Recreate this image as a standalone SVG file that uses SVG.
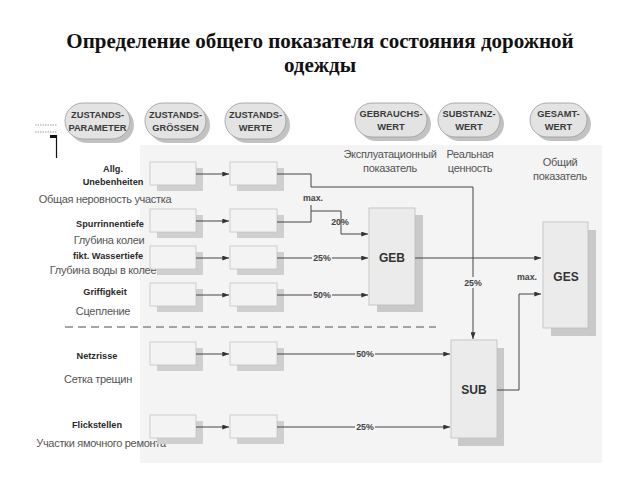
<svg xmlns="http://www.w3.org/2000/svg" width="640" height="480" viewBox="0 0 640 480">
<defs>
<style>
.title{font-family:"Liberation Serif","Times New Roman",serif;font-weight:bold;font-size:21px;fill:#111;text-anchor:middle}
.pill{fill:#e3e3e3;stroke:#9a9a9a;stroke-width:0.8}
.pillsh{fill:#c2c2c2}
.ptxt{font-family:"Liberation Sans",Arial,sans-serif;font-weight:bold;font-size:9.3px;fill:#3a3a3a;text-anchor:middle}
.ru{font-family:"Liberation Sans",Arial,sans-serif;font-size:11px;fill:#555;text-anchor:middle;letter-spacing:-0.3px}
.de{font-family:"Liberation Sans",Arial,sans-serif;font-weight:bold;font-size:9.2px;fill:#2a2a2a;text-anchor:middle}
.box{fill:#f3f3f3;stroke:#c4c4c4;stroke-width:0.8}
.boxsh{fill:#cfcfcf}
.big{fill:#ebebeb;stroke:#bdbdbd;stroke-width:0.8}
.bigsh{fill:#c9c9c9}
.btxt{font-family:"Liberation Sans",Arial,sans-serif;font-weight:bold;font-size:12px;fill:#333;text-anchor:middle}
.ln{fill:none;stroke:#444;stroke-width:1}
.pct{font-family:"Liberation Sans",Arial,sans-serif;font-weight:bold;font-size:8.8px;fill:#444;text-anchor:middle}
.lb{fill:#f4f4f4}
</style>
<marker id="ah" viewBox="0 0 8 6" refX="8" refY="3" markerWidth="7" markerHeight="5" orient="auto" markerUnits="userSpaceOnUse">
<path d="M0,0 L8,3 L0,6 z" fill="#333"/>
</marker>
</defs>
<rect width="640" height="480" fill="#fff"/>
<rect x="140" y="145" width="462" height="318" fill="#f4f4f4"/>
<text class="title" x="320" y="48">Определение общего показателя состояния дорожной</text>
<text class="title" x="320" y="72">одежды</text>

<g id="corner-mark">
<line x1="35" y1="125" x2="57" y2="125" stroke="#888" stroke-width="0.8" stroke-dasharray="1.5,1"/>
<line x1="35" y1="132" x2="57" y2="132" stroke="#888" stroke-width="0.8" stroke-dasharray="1.5,1"/>
<rect x="50" y="135" width="7" height="3" fill="#111"/>
<line x1="56.5" y1="135" x2="56.5" y2="158" stroke="#111" stroke-width="1.2"/>
</g>

<g id="hdr-zustands-parameter">
<rect class="pillsh" x="69" y="107" width="65" height="36" rx="18"/>
<rect class="pill" x="65" y="103" width="65" height="36" rx="18"/>
<text class="ptxt" x="97.5" y="118">ZUSTANDS-</text>
<text class="ptxt" x="97.5" y="131">PARAMETER</text>
</g>
<g id="hdr-zustands-groessen">
<rect class="pillsh" x="149" y="107" width="61" height="36" rx="18"/>
<rect class="pill" x="145" y="103" width="61" height="36" rx="18"/>
<text class="ptxt" x="175.5" y="118">ZUSTANDS-</text>
<text class="ptxt" x="175.5" y="131">GRÖSSEN</text>
</g>
<g id="hdr-zustands-werte">
<rect class="pillsh" x="229" y="107" width="61" height="36" rx="18"/>
<rect class="pill" x="225" y="103" width="61" height="36" rx="18"/>
<text class="ptxt" x="255.5" y="118">ZUSTANDS-</text>
<text class="ptxt" x="255.5" y="131">WERTE</text>
</g>
<g id="hdr-gebrauchswert">
<rect class="pillsh" x="359" y="107" width="72" height="34" rx="17"/>
<rect class="pill" x="355" y="103" width="72" height="34" rx="17"/>
<text class="ptxt" x="391" y="117">GEBRAUCHS-</text>
<text class="ptxt" x="391" y="130">WERT</text>
<text class="ru" x="390" y="158">Эксплуатационный</text>
<text class="ru" x="390" y="172">показатель</text>
</g>
<g id="hdr-substanzwert">
<rect class="pillsh" x="442" y="107" width="62" height="34" rx="17"/>
<rect class="pill" x="438" y="103" width="62" height="34" rx="17"/>
<text class="ptxt" x="469" y="117">SUBSTANZ-</text>
<text class="ptxt" x="469" y="130">WERT</text>
<text class="ru" x="470" y="158">Реальная</text>
<text class="ru" x="470" y="172">ценность</text>
</g>
<g id="hdr-gesamtwert">
<rect class="pillsh" x="534" y="107" width="57" height="34" rx="17"/>
<rect class="pill" x="530" y="103" width="57" height="34" rx="17"/>
<text class="ptxt" x="558.5" y="117">GESAMT-</text>
<text class="ptxt" x="558.5" y="130">WERT</text>
<text class="ru" x="560" y="166">Общий</text>
<text class="ru" x="560" y="180">показатель</text>
</g>

<g id="lbl-allg">
<text class="de" x="113" y="172">Allg.</text>
<text class="de" x="113" y="185">Unebenheiten</text>
<text class="ru" x="105" y="203">Общая неровность участка</text>
</g>
<g id="lbl-spurrinnentiefe">
<text class="de" x="110" y="227">Spurrinnentiefe</text>
<text class="ru" x="109" y="244">Глубина колеи</text>
</g>
<g id="lbl-wassertiefe">
<text class="de" x="108" y="259">fikt. Wassertiefe</text>
<text class="ru" x="103" y="274">Глубина воды в колее</text>
</g>
<g id="lbl-griffigkeit">
<text class="de" x="105" y="295">Griffigkeit</text>
<text class="ru" x="103" y="315">Сцепление</text>
</g>
<g id="lbl-netzrisse">
<text class="de" x="97" y="359">Netzrisse</text>
<text class="ru" x="98" y="383">Сетка трещин</text>
</g>
<g id="lbl-flickstellen">
<text class="de" x="97" y="428">Flickstellen</text>
<text class="ru" x="101" y="447">Участки ямочного ремонта</text>
</g>

<line x1="65" y1="327" x2="436" y2="327" stroke="#888" stroke-width="1.5" stroke-dasharray="8,5"/>

<g id="p-allg"><rect class="boxsh" x="157" y="168" width="46" height="23"/><rect class="box" x="150" y="162" width="46" height="23"/></g>
<g id="w-allg"><rect class="boxsh" x="237" y="168" width="47" height="23"/><rect class="box" x="230" y="162" width="47" height="23"/></g>
<g id="p-spur"><rect class="boxsh" x="157" y="215" width="46" height="23"/><rect class="box" x="150" y="209" width="46" height="23"/></g>
<g id="w-spur"><rect class="boxsh" x="237" y="215" width="47" height="23"/><rect class="box" x="230" y="209" width="47" height="23"/></g>
<g id="p-wasser"><rect class="boxsh" x="157" y="252" width="46" height="23"/><rect class="box" x="150" y="246" width="46" height="23"/></g>
<g id="w-wasser"><rect class="boxsh" x="237" y="252" width="47" height="23"/><rect class="box" x="230" y="246" width="47" height="23"/></g>
<g id="p-griff"><rect class="boxsh" x="157" y="289" width="46" height="23"/><rect class="box" x="150" y="283" width="46" height="23"/></g>
<g id="w-griff"><rect class="boxsh" x="237" y="289" width="47" height="23"/><rect class="box" x="230" y="283" width="47" height="23"/></g>
<g id="p-netz"><rect class="boxsh" x="157" y="348" width="46" height="23"/><rect class="box" x="150" y="342" width="46" height="23"/></g>
<g id="w-netz"><rect class="boxsh" x="237" y="348" width="47" height="23"/><rect class="box" x="230" y="342" width="47" height="23"/></g>
<g id="p-flick"><rect class="boxsh" x="157" y="421" width="46" height="23"/><rect class="box" x="150" y="415" width="46" height="23"/></g>
<g id="w-flick"><rect class="boxsh" x="237" y="421" width="47" height="23"/><rect class="box" x="230" y="415" width="47" height="23"/></g>

<g id="GEB"><rect class="bigsh" x="377" y="215" width="46" height="97"/><rect class="big" x="369" y="208" width="46" height="97"/><text class="btxt" x="392" y="262">GEB</text></g>
<g id="GES"><rect class="bigsh" x="551" y="230" width="45" height="106"/><rect class="big" x="543" y="222" width="45" height="106"/><text class="btxt" x="566" y="281">GES</text></g>
<g id="SUB"><rect class="bigsh" x="458" y="348" width="46" height="98"/><rect class="big" x="451" y="340" width="46" height="98"/><text class="btxt" x="474" y="394">SUB</text></g>

<g id="connectors">
<line class="ln" x1="196" y1="174" x2="229" y2="174" marker-end="url(#ah)"/>
<line class="ln" x1="196" y1="221" x2="229" y2="221" marker-end="url(#ah)"/>
<line class="ln" x1="196" y1="258" x2="229" y2="258" marker-end="url(#ah)"/>
<line class="ln" x1="196" y1="295" x2="229" y2="295" marker-end="url(#ah)"/>
<line class="ln" x1="196" y1="354" x2="229" y2="354" marker-end="url(#ah)"/>
<line class="ln" x1="196" y1="427" x2="229" y2="427" marker-end="url(#ah)"/>
<path class="ln" d="M277,174 H311 V187 H473 V339" marker-end="url(#ah)"/>
<path class="ln" d="M277,222 H311 V205"/>
<path class="ln" d="M311,211 H341 V234 H368" marker-end="url(#ah)"/>
<line class="ln" x1="277" y1="258" x2="368" y2="258" marker-end="url(#ah)"/>
<line class="ln" x1="277" y1="295" x2="368" y2="295" marker-end="url(#ah)"/>
<line class="ln" x1="277" y1="354" x2="450" y2="354" marker-end="url(#ah)"/>
<line class="ln" x1="277" y1="427" x2="450" y2="427" marker-end="url(#ah)"/>
<line class="ln" x1="415" y1="258" x2="541" y2="258" marker-end="url(#ah)"/>
<path class="ln" d="M497,390 H519 V294 H541" marker-end="url(#ah)"/>
<text class="pct" x="313" y="201">max.</text>
<text class="pct" x="340" y="225">20%</text>
<rect class="lb" x="312" y="253" width="20" height="10"/>
<text class="pct" x="322" y="261">25%</text>
<rect class="lb" x="312" y="290" width="20" height="10"/>
<text class="pct" x="322" y="298">50%</text>
<rect class="lb" x="355" y="349" width="20" height="10"/>
<text class="pct" x="365" y="357">50%</text>
<rect class="lb" x="355" y="422" width="20" height="10"/>
<text class="pct" x="365" y="430">25%</text>
<rect class="lb" x="463" y="277" width="20" height="11"/>
<text class="pct" x="473" y="286">25%</text>
<text class="pct" x="527" y="280">max.</text>
</g>
</svg>
